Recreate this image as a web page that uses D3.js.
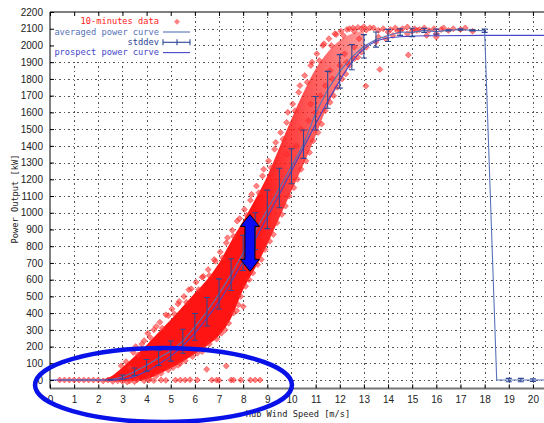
<!DOCTYPE html>
<html>
<head>
<script src="https://d3js.org/d3.v7.min.js"></script>
<style>
  body {margin: 0; background: #fff;}
  .tick text {font: 10px "Liberation Sans", Arial, sans-serif; fill: #222;}
  .mono {font-family: "DejaVu Sans Mono", monospace; font-size: 8.7px;}
</style>
</head>
<body>
<svg id="chart" width="544" height="423"></svg>
<script>
// axis ticks
var xTicks = [0,1,2,3,4,5,6,7,8,9,10,11,12,13,14,15,16,17,18,19,20];
var yTicks = [0,100,200,300,400,500,600,700,800,900,1000,1100,1200,1300,1400,1500,1600,1700,1800,1900,2000,2100,2200];

// averaged power curve (bins of 0.5 m/s) and its stddev
var avgSpeed = [0.5,1,1.5,2,2.5,3,3.5,4,4.5,5,5.5,6,6.5,7,7.5,8,8.5,9,9.5,10,10.5,11,11.5,12,12.5,13,13.5,14,14.5,15,15.5,16,16.5,17,17.5,18,18.5,19,19.5,20,20.5];
var avgPower = [0,0,0,0,2,18,50,88,132,173,232,318,408,515,630,760,890,1020,1148,1278,1410,1595,1735,1845,1930,1995,2035,2060,2080,2078,2090,2083,2090,2095,2090,2088,0,0,0,0,0];
var avgStd   = [0,0,0,0,3,12,22,35,45,60,72,80,85,90,95,105,110,115,118,105,85,100,110,100,75,70,45,36,20,25,12,15,4,4,3,10,0,10,10,8,0];

// prospect power curve
var prosSpeed = [0,2.5,3,3.5,4,4.5,5,5.5,6,6.5,7,7.5,8,8.5,9,9.5,10,10.5,11,11.5,12,12.5,13,13.5,14,14.5,15,16,18,20.5];
var prosPower = [0,0,5,22,52,95,143,205,280,370,470,585,710,840,975,1110,1250,1390,1530,1665,1790,1900,1980,2025,2045,2052,2056,2058,2060,2060];

// dense core of the 10-minute data cloud
var bandSpeed = [2.2,2.5,3,3.5,4,4.5,5,5.5,6,6.5,7,7.5,8,8.5,9,9.5,10,10.5,11,11.5,12,12.5,13];
var bandLow   = [-8,-8,-8,-5,5,35,70,110,155,205,265,370,540,670,810,970,1130,1290,1460,1640,1780,1900,1980];
var bandHigh  = [5,20,75,140,210,285,360,440,520,600,700,830,950,1080,1220,1390,1560,1720,1860,1960,2030,2070,2090];

// individual 10-minute samples (edges and outliers of the cloud)
var samples = [
  [0.4,0],[0.6,0],[0.8,0],[1.0,0],[1.2,0],[1.4,0],[1.6,0],[1.8,0],[2.0,0],[2.2,-5],[2.4,0],[2.6,-8],[2.8,-5],[3.0,-8],
  [3.3,-5],[3.6,0],[4.1,0],[4.3,-3],[4.6,0],[4.8,-2],[5.2,0],[5.4,0],[5.6,0],[5.8,2],[6.1,0],[6.7,0],[6.9,0],[7.0,-2],
  [7.5,0],[7.6,0],[7.9,0],[8.3,0],[8.5,0],[8.7,0],
  [6.49,64],[7.3,84],[7.73,414],[8.0,440],
  // upper, sparser side
  [2.95,85],[3.15,110],[3.3,75],
  [3.45,165],[3.55,200],[3.65,150],[3.8,215],
  [3.9,235],[4.05,280],[4.15,255],[4.3,300],
  [4.4,320],[4.55,345],[4.65,310],[4.8,390],
  [4.9,385],[5.05,425],[5.15,395],[5.3,455],
  [5.35,470],[5.55,500],[5.65,465],[5.75,540],
  [5.85,545],[6.05,585],[6.15,540],[6.3,615],
  [6.35,620],[6.55,660],[6.6,625],[6.8,720],
  [6.85,710],[7.05,765],[7.15,730],[7.3,820],
  [7.35,850],[7.55,895],[7.6,860],[7.75,950],
  [7.85,965],[8.05,1020],[8.15,985],[8.3,1075],
  [8.35,1110],[8.55,1160],[8.65,1120],[8.8,1220],
  [8.85,1260],[9.05,1310],[9.15,1270],[9.3,1380],
  [9.35,1420],[9.55,1480],[9.65,1440],[9.8,1540],
  [9.85,1600],[10.05,1650],[10.15,1610],[10.3,1720],
  [10.35,1760],[10.55,1820],[10.65,1780],[10.8,1880],
  [10.85,1900],[11.05,1950],[11.15,1910],[11.3,2000],
  [11.35,2010],[11.55,2040],[11.65,2000],[11.8,2070],
  [11.85,2065],[12.05,2085],[12.15,2060],[12.3,2095],
  [12.4,2100],[12.55,2105],[12.6,2085],[12.75,2108],
  [12.9,2100],[13.0,2112],[13.1,2092],[13.25,2106],
  // lower, dense side
  [3.2,-12],[3.5,-10],[3.9,-5],[4.1,10],[4.4,25],[4.6,40],[4.9,60],[5.1,75],[5.3,88],[5.4,100],[5.6,115],
  [5.9,140],[6.1,160],[6.3,170],[6.4,190],[6.6,215],[6.9,245],[7.1,280],[7.25,300],[7.4,340],[7.6,400],[7.8,450],
  [7.9,500],[8.1,560],[8.25,600],[8.4,640],[8.6,690],[8.75,720],[8.9,780],[9.1,830],[9.25,870],[9.4,940],[9.6,990],
  [9.75,1040],[9.9,1100],[10.1,1150],[10.25,1200],[10.4,1260],[10.6,1310],[10.75,1360],[10.9,1430],[11.1,1480],
  [11.25,1530],[11.4,1610],[11.6,1660],[11.75,1700],[11.9,1750],[12.1,1800],[12.25,1830],[12.4,1880],[12.6,1920],
  [12.75,1930],[12.9,1960],[13.1,1990],
  // inside the upper cloud
  [9.8,1350],[10.2,1400],[10.4,1500],[10.7,1550],[10.8,1650],[11.0,1600],[11.2,1700],[11.4,1760],[11.6,1850],
  [11.7,1800],[12.0,1880],[12.2,1950],[12.3,1900],[12.6,1990],[12.8,2040],
  // plateau
  [13.08,1757],[13.66,1857],[14.84,1943],[13.5,2020],
  [13.4,2105],[13.6,2090],[13.8,2100],[14.0,2080],[14.1,2095],[14.3,2105],[14.5,2090],[14.6,2100],
  [14.8,2110],[15.0,2085],[15.1,2100],[15.3,2095],[15.5,2105],[15.7,2090],[15.9,2100],[16.0,2070],
  [16.2,2095],[16.5,2090],[16.7,2100],[17.0,2095],[17.2,2105],[17.5,2085],[13.6,2050],[13.9,2040],
  [14.2,2060],[14.8,2070],[15.6,2060],[16.0,2050],[14.4,2085],[15.2,2090],[16.3,2105]
];

// annotations, in data units
var ringCenter = [4.7, -30], ringRadius = [5.32, 221];
var arrowSpeed = 8.28, arrowTop = 990, arrowBottom = 650;

var svg = d3.select("#chart");
var x = d3.scaleLinear().domain([0, 20.5]).range([50, 545]);
var y = d3.scaleLinear().domain([-50, 2200]).range([388.4, 12]);

var defs = svg.append("defs");
defs.append("clipPath").attr("id", "plot")
    .append("rect").attr("x", 50).attr("y", 12).attr("width", 495).attr("height", 376.4);
var grad = defs.append("linearGradient").attr("id", "fade")
    .attr("gradientUnits", "userSpaceOnUse")
    .attr("x1", x(8.5)).attr("x2", x(12.8)).attr("y1", 0).attr("y2", 0);
grad.append("stop").attr("offset", 0).attr("stop-color", "#ff1414").attr("stop-opacity", 1);
grad.append("stop").attr("offset", 1).attr("stop-color", "#ff1414").attr("stop-opacity", 0.45);

// grid
var grid = svg.append("g").attr("stroke", "#555").attr("stroke-dasharray", "1.5,3").attr("shape-rendering", "crispEdges");
grid.selectAll(".gx").data(xTicks.slice(1)).enter().append("line")
    .attr("x1", function(d) { return Math.round(x(d)) + 0.5; })
    .attr("x2", function(d) { return Math.round(x(d)) + 0.5; })
    .attr("y1", y(2200)).attr("y2", y(-50));
grid.selectAll(".gy").data(yTicks.slice(0, -1)).enter().append("line")
    .attr("x1", x(0)).attr("x2", 545)
    .attr("y1", function(d) { return Math.round(y(d)) + 0.5; })
    .attr("y2", function(d) { return Math.round(y(d)) + 0.5; });

// legend background hides the grid
svg.append("rect").attr("x", 51).attr("y", 13).attr("width", 141).attr("height", 46).attr("fill", "#fff");

var plot = svg.append("g").attr("clip-path", "url(#plot)");

// data cloud
var bandData = bandSpeed.map(function(s, i) { return {s: s, lo: bandLow[i], hi: bandHigh[i]}; });
plot.append("path").datum(bandData)
    .attr("fill", "url(#fade)")
    .attr("d", d3.area().curve(d3.curveMonotoneX)
        .x(function(d) { return x(d.s); })
        .y0(function(d) { return y(d.lo); })
        .y1(function(d) { return y(d.hi); }));

var diamond = "M0,-3L3,0L0,3L-3,0Z";
plot.selectAll(".pt").data(samples).enter().append("path")
    .attr("d", diamond)
    .attr("transform", function(d) { return "translate(" + x(d[0]) + "," + y(d[1]) + ")"; })
    .attr("fill", "#ff3030").attr("fill-opacity", 0.6)
    .attr("stroke", "#ff2020").attr("stroke-width", 0.6).attr("stroke-opacity", 0.8);

// prospect power curve
var prosData = prosSpeed.map(function(s, i) { return [s, prosPower[i]]; });
plot.append("path").datum(prosData)
    .attr("fill", "none").attr("stroke", "#4646c8").attr("stroke-width", 1.1)
    .attr("d", d3.line().curve(d3.curveMonotoneX)
        .x(function(d) { return x(d[0]); })
        .y(function(d) { return y(d[1]); }));

// averaged power curve
var avgData = avgSpeed.map(function(s, i) { return {s: s, p: avgPower[i], sd: avgStd[i]}; });
plot.append("path").datum(avgData)
    .attr("fill", "none").attr("stroke", "#5672b8").attr("stroke-width", 1.1)
    .attr("d", d3.line()
        .x(function(d) { return x(d.s); })
        .y(function(d) { return y(d.p); }));

// stddev bars
var bars = plot.append("g").attr("stroke", "#2e4694").attr("stroke-width", 1.1)
    .selectAll("g").data(avgData.filter(function(d) { return d.sd > 0; })).enter().append("g");
bars.append("line")
    .attr("x1", function(d) { return x(d.s); }).attr("x2", function(d) { return x(d.s); })
    .attr("y1", function(d) { return y(d.p - d.sd); }).attr("y2", function(d) { return y(d.p + d.sd); });
bars.append("line")
    .attr("x1", function(d) { return x(d.s) - 3; }).attr("x2", function(d) { return x(d.s) + 3; })
    .attr("y1", function(d) { return y(d.p - d.sd); }).attr("y2", function(d) { return y(d.p - d.sd); });
bars.append("line")
    .attr("x1", function(d) { return x(d.s) - 3; }).attr("x2", function(d) { return x(d.s) + 3; })
    .attr("y1", function(d) { return y(d.p + d.sd); }).attr("y2", function(d) { return y(d.p + d.sd); });

// border and axes
svg.append("g").attr("transform", "translate(50,0)")
    .call(d3.axisLeft(y).tickValues(yTicks).tickSize(-4).tickPadding(7).tickFormat(d3.format("d")))
    .call(function(g) { g.select(".domain").attr("d", "M0,12V388.4"); });
svg.append("g").attr("transform", "translate(0,388.4)")
    .call(d3.axisBottom(x).tickValues(xTicks).tickSize(-4).tickPadding(8))
    .call(function(g) { g.select(".domain").attr("d", "M50,0H545").attr("stroke", "#777").attr("stroke-width", 2); });
svg.append("g").attr("transform", "translate(0,12)")
    .call(d3.axisTop(x).tickValues(xTicks).tickSize(-4).tickFormat(""))
    .call(function(g) { g.select(".domain").attr("d", "M50,0H545"); });

// axis titles
svg.append("text").attr("class", "mono").attr("x", 298).attr("y", 417)
    .attr("text-anchor", "middle").attr("fill", "#222").text("Hub Wind Speed [m/s]");
svg.append("text").attr("class", "mono").attr("transform", "translate(18,199) rotate(-90)")
    .attr("text-anchor", "middle").attr("fill", "#222").text("Power Output [kW]");

// legend
var legendRows = [
  {label: "10-minutes data", color: "#ff2020", kind: "pt"},
  {label: "averaged power curve", color: "#5672b8", kind: "line"},
  {label: "stddev", color: "#2e4694", kind: "bar"},
  {label: "prospect power curve", color: "#4646c8", kind: "line"}
];
var leg = svg.append("g").selectAll("g").data(legendRows).enter().append("g")
    .attr("transform", function(d, i) { return "translate(0," + (21.7 + i * 10.3) + ")"; });
leg.append("text").attr("class", "mono").attr("x", 159).attr("dy", "0.32em")
    .attr("text-anchor", "end").attr("fill", function(d) { return d.color; })
    .text(function(d) { return d.label; });
leg.filter(function(d) { return d.kind !== "pt"; }).append("line")
    .attr("x1", 163).attr("x2", 190).attr("stroke", function(d) { return d.color; }).attr("stroke-width", 1.1);
leg.filter(function(d) { return d.kind === "pt"; }).append("path")
    .attr("d", diamond).attr("transform", "translate(177,0)").attr("fill", "#ff3030").attr("fill-opacity", 0.6);
leg.filter(function(d) { return d.kind === "bar"; }).selectAll(".cap").data([163, 177, 190]).enter().append("line")
    .attr("x1", function(d) { return d; }).attr("x2", function(d) { return d; })
    .attr("y1", -3).attr("y2", 3).attr("stroke", "#2e4694").attr("stroke-width", 1.1);

// annotations
svg.append("ellipse")
    .attr("cx", x(ringCenter[0])).attr("cy", y(ringCenter[1]))
    .attr("rx", x(ringRadius[0]) - x(0)).attr("ry", y(0) - y(ringRadius[1]))
    .attr("fill", "none").attr("stroke", "#0812e8").attr("stroke-width", 4.5);

var ax = x(arrowSpeed), at = y(arrowTop), ab = y(arrowBottom);
svg.append("path")
    .attr("d", "M" + ax + "," + at +
        "L" + (ax + 9.5) + "," + (at + 12) + "L" + (ax + 5) + "," + (at + 12) +
        "L" + (ax + 5) + "," + (ab - 12) + "L" + (ax + 9.5) + "," + (ab - 12) +
        "L" + ax + "," + ab +
        "L" + (ax - 9.5) + "," + (ab - 12) + "L" + (ax - 5) + "," + (ab - 12) +
        "L" + (ax - 5) + "," + (at + 12) + "L" + (ax - 9.5) + "," + (at + 12) + "Z")
    .attr("fill", "#0a0af5").attr("stroke", "#000").attr("stroke-width", 1);
</script>
</body>
</html>
